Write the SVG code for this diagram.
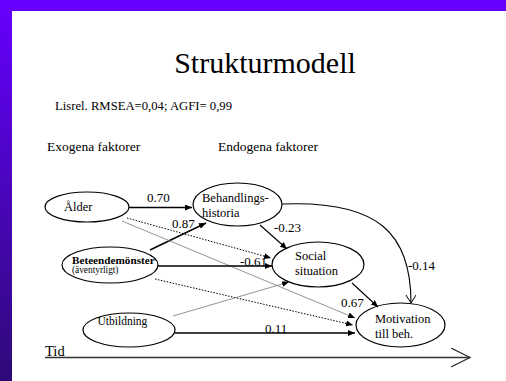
<svg xmlns="http://www.w3.org/2000/svg" width="506" height="381" viewBox="0 0 506 381" font-family="'Liberation Serif', 'Times New Roman', serif">
<defs>
<linearGradient id="bg" x1="0" y1="0" x2="0" y2="1">
<stop offset="0" stop-color="#6600ff"/>
<stop offset="1" stop-color="#2e0a78"/>
</linearGradient>
<marker id="ah" markerWidth="8" markerHeight="6" refX="7" refY="3" orient="auto" markerUnits="userSpaceOnUse">
<path d="M0,0 L7,3 L0,6 z" fill="#000"/>
</marker>
<marker id="open" markerWidth="12" markerHeight="12" refX="8" refY="5" orient="auto" markerUnits="userSpaceOnUse">
<path d="M0,0 L8,5 L0,10" fill="none" stroke="#000" stroke-width="1"/>
</marker>
<marker id="openbig" markerWidth="22" markerHeight="22" refX="19" refY="9.5" orient="auto" markerUnits="userSpaceOnUse">
<path d="M0,0 L19,9.5 L0,19" fill="none" stroke="#333" stroke-width="1.3"/>
</marker>
</defs>
<style>
text{font-family:"Liberation Serif","Times New Roman",serif;fill:#000}
.node{font-size:12.5px}
.lbl{font-size:13px}
ellipse{fill:#fff;stroke:#000;stroke-width:1.2}
.solid{stroke:#000;stroke-width:1.4;fill:none}
.thin{stroke:#000;stroke-width:1.1;fill:none}
.gray{stroke:#777;stroke-width:0.8;fill:none}
.dot{stroke:#000;stroke-width:1;stroke-dasharray:1.5,1.5;fill:none}
</style>
<rect x="0" y="0" width="506" height="381" fill="url(#bg)"/>
<rect x="0" y="0" width="506" height="11" fill="#6600ff"/>
<rect x="12" y="11" width="494" height="370" fill="#fff"/>

<text x="265" y="73" font-size="30" text-anchor="middle">Strukturmodell</text>
<text x="55" y="110" font-size="12.5" textLength="177" lengthAdjust="spacingAndGlyphs">Lisrel. RMSEA=0,04; AGFI= 0,99</text>
<text x="47" y="151" font-size="13.5">Exogena faktorer</text>
<text x="218" y="151" font-size="13.5">Endogena faktorer</text>

<g id="alder">
<ellipse cx="87" cy="207" rx="42" ry="15"/>
<text class="node" x="64" y="211">Ålder</text>
</g>
<g id="behandlingshistoria">
<ellipse cx="237.5" cy="204.5" rx="44.5" ry="21.5"/>
<text class="node" x="202" y="202">Behandlings-</text>
<text class="node" x="202" y="216.5">historia</text>
</g>
<g id="beteendemonster">
<ellipse cx="110" cy="265" rx="48" ry="18"/>
<text x="72" y="263.5" font-size="11.2" font-weight="bold">Beteendemönster</text>
<text x="72" y="272.5" font-size="9.3">(äventyrligt)</text>
</g>
<g id="social">
<ellipse cx="318" cy="264.5" rx="46" ry="22.5"/>
<text class="node" x="295" y="260">Social</text>
<text class="node" x="295" y="275">situation</text>
</g>
<g id="utbildning">
<ellipse cx="129" cy="330" rx="46" ry="17"/>
<text x="97.5" y="325" font-size="11.5">Utbildning</text>
</g>
<g id="motivation">
<ellipse cx="400.5" cy="325" rx="44.5" ry="22"/>
<text class="node" x="375" y="322.5">Motivation</text>
<text class="node" x="375" y="338">till beh.</text>
</g>

<g id="connectors">
<line class="solid" x1="129" y1="207.5" x2="192" y2="207.5" marker-end="url(#ah)"/>
<line class="solid" x1="150" y1="250" x2="206" y2="223" marker-end="url(#ah)"/>
<line class="dot" x1="127" y1="218" x2="271" y2="258" marker-end="url(#ah)"/>
<line class="gray" x1="122" y1="221" x2="355" y2="318" marker-end="url(#ah)"/>
<line class="solid" x1="158" y1="266" x2="272" y2="266" marker-end="url(#ah)"/>
<line class="dot" x1="155" y1="279" x2="353" y2="325" marker-end="url(#ah)"/>
<line class="gray" x1="173" y1="316" x2="289" y2="282" marker-end="url(#ah)"/>
<line class="solid" x1="175" y1="333" x2="355" y2="333" marker-end="url(#ah)"/>
<line class="thin" x1="260" y1="225" x2="287" y2="249" marker-end="url(#ah)"/>
<line class="thin" x1="352" y1="283" x2="378" y2="307" marker-end="url(#ah)"/>
<path class="thin" d="M282,204 C380,200 411,235 411,303" marker-end="url(#open)"/>
<line x1="45" y1="357.5" x2="470" y2="357.5" stroke="#333" stroke-width="1.5" marker-end="url(#openbig)"/>
<text class="lbl" x="147" y="202">0.70</text>
<text class="lbl" x="172" y="227.5">0.87</text>
<text class="lbl" x="274" y="231.5">-0.23</text>
<text class="lbl" x="240" y="266">-0.61</text>
<text class="lbl" x="408" y="270">-0.14</text>
<text class="lbl" x="341" y="306.5">0.67</text>
<text class="lbl" x="265" y="332.5">0.11</text>
<text x="45" y="355.5" font-size="14.5">Tid</text>
</g>
</svg>
